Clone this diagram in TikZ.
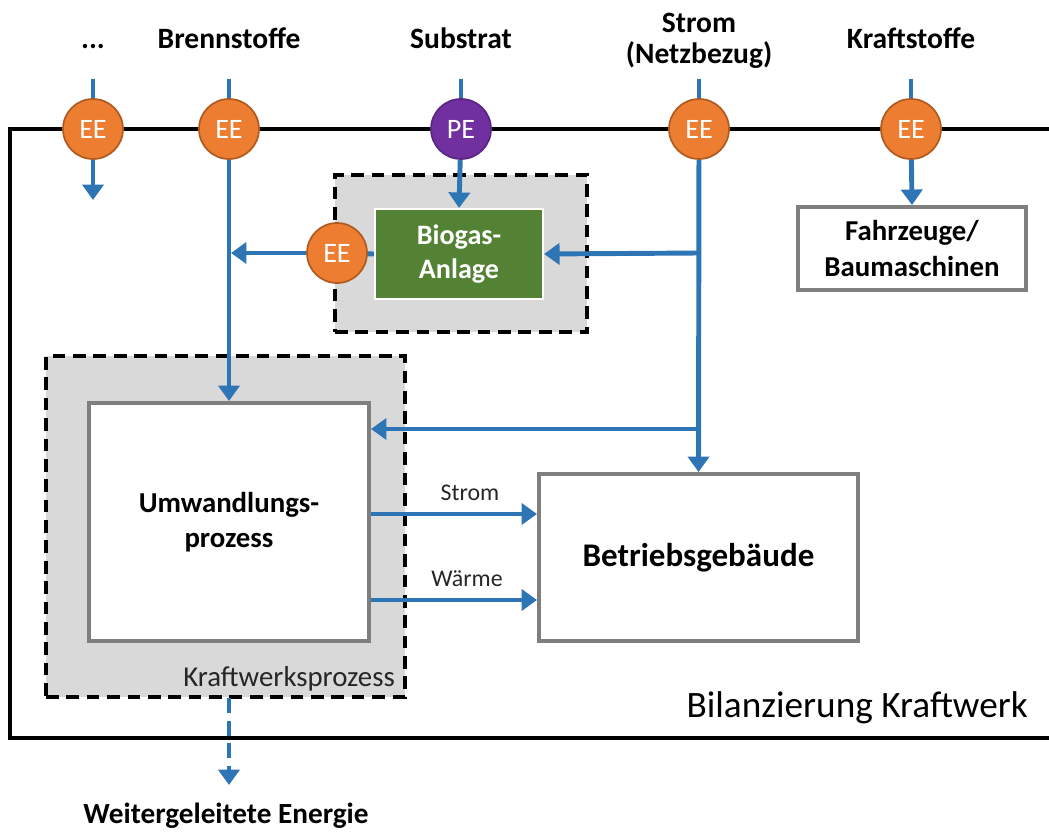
\documentclass[tikz,border=0pt]{standalone}
\usepackage{fontspec}
\setmainfont{Carlito}
\usetikzlibrary{arrows.meta}
\definecolor{flowblue}{HTML}{2E75B6}
\definecolor{eeorange}{HTML}{ED7D31}
\definecolor{eeborder}{HTML}{AE5A21}
\definecolor{pepurple}{HTML}{7030A0}
\definecolor{peborder}{HTML}{5A2680}
\definecolor{zonegray}{HTML}{D9D9D9}
\definecolor{boxgray}{HTML}{7F7F7F}
\definecolor{biogreen}{HTML}{548235}
\definecolor{txtdark}{HTML}{262626}
\tikzset{
  frameline/.style={line width=3pt, black},
  flow/.style={draw=flowblue, line width=3.5pt, -{Triangle[width=15pt,length=11pt]}},
  plainflow/.style={draw=flowblue, line width=3.5pt},
  dashflow/.style={draw=flowblue, line width=3.5pt, dash pattern=on 11pt off 5pt, -{Triangle[width=15pt,length=11pt]}},
  eecircle/.style={circle, fill=eeorange, draw=eeborder, line width=1.2pt, minimum size=1.5cm, inner sep=0pt, text=white, font=\fontsize{20}{24}\selectfont},
  pecircle/.style={eecircle, fill=pepurple, draw=peborder},
  zone/.style={draw=black, fill=zonegray, line width=2.4pt, dash pattern=on 9pt off 5.5pt},
  graybox/.style={draw=boxgray, fill=white, line width=2.8pt, inner sep=0pt, align=center},
  greenbox/.style={draw=white, fill=biogreen, line width=1.5pt, inner sep=0pt, align=center, text=white, font=\bfseries\fontsize{20}{24}\selectfont},
  toplabel/.style={font=\bfseries\fontsize{21}{22}\selectfont, inner sep=0pt},
  flowlabel/.style={font=\fontsize{17}{19}\selectfont, text=txtdark, inner sep=0pt},
}
\begin{document}
\begin{tikzpicture}[x=0.025cm, y=-0.025cm]
\useasboundingbox (0,0) rectangle (1049,833);

% outer balance frame
\draw[frameline] (1060,129) -- (10,129) -- (10,738) -- (1060,738);
\node[anchor=base east, font=\fontsize{26.5}{30}\selectfont, inner sep=0pt] (bilanz) at (1028,717) {Bilanzierung Kraftwerk};

% gray zones
\node[zone, minimum width=6.3cm, minimum height=3.925cm, inner sep=0pt] (biozone) at (461,253.5) {};
\node[zone, minimum width=8.975cm, minimum height=8.525cm, inner sep=0pt] (kw) at (225.5,526.5) {};
\node[anchor=base east, font=\fontsize{20.5}{24}\selectfont, text=txtdark, inner sep=0pt] (kwlabel) at (395,686) {Kraftwerksprozess};

% boxes
\node[greenbox, minimum width=4.2cm, minimum height=2.25cm] (bio) at (459,254) {Biogas-\\Anlage};
\node[graybox, minimum width=7cm, minimum height=5.95cm, font=\bfseries\fontsize{20.5}{25}\selectfont] (umw) at (229,522) {Umwandlungs-\\prozess};
\node[graybox, minimum width=7.975cm, minimum height=4.175cm, font=\bfseries\fontsize{23.5}{27}\selectfont] (betr) at (698.5,557.5) {Betriebsgebäude};
\node[graybox, minimum width=5.7cm, minimum height=2.075cm, font=\bfseries\fontsize{20.5}{26}\selectfont] (fahr) at (912,248.5) {Fahrzeuge/\\Baumaschinen};

% top labels
\node[toplabel, anchor=base] (ldots) at (93,49) {...};
\node[toplabel, anchor=base] (lbrenn) at (229,49) {Brennstoffe};
\node[toplabel, anchor=base] (lsub) at (461,49) {Substrat};
\node[toplabel, align=center] (lstrom) at (699,41) {Strom\\(Netzbezug)};
\node[toplabel, anchor=base] (lkraft) at (911,49) {Kraftstoffe};

% input points
\coordinate (t1) at (93,79);
\coordinate (t2) at (229,79);
\coordinate (t3) at (461,79);
\coordinate (t4) at (699,79);
\coordinate (t5) at (911,79);
\coordinate (o1) at (93,200);
\coordinate (j1) at (231,253);
\coordinate (j2) at (699,253);
\coordinate (j3) at (699,429);

% lines behind circles
\draw[plainflow] (t1) -- (93,129);
\draw[plainflow] (t2) -- (229,129);
\draw[plainflow] (t3) -- (461,129);
\draw[plainflow] (t4) -- (699,129);
\draw[plainflow] (t5) -- (911,129);

% circles
\node[eecircle] (ee1) at (93,129) {EE};
\node[eecircle] (ee2) at (229,129) {EE};
\node[pecircle] (pe) at (461,129) {PE};
\node[eecircle] (ee4) at (699,129) {EE};
\node[eecircle] (ee5) at (911,129) {EE};

% flows
\draw[flow] (ee1) -- (o1);
\draw[flow] (ee2) -- (umw.north);
\draw[flow] (pe) -- (bio.north);
\draw[flow] (ee5) -- (fahr.north);
\draw[flow] (ee4) -- (betr.north);
\draw[flow] (j2) -- (bio.east);
\draw[flow] (j3) -- (umw.east |- j3);
\draw[plainflow] (bio.west) -- (337,253);
\node[eecircle] (eeb) at (337,253) {EE};
\draw[flow] (eeb) -- (j1);

\draw[flow] (umw.east |- 0,514) -- (betr.west |- 0,514);
\node[flowlabel, anchor=base] (lstr) at (470,500) {Strom};
\draw[flow] (umw.east |- 0,600) -- (betr.west |- 0,600);
\node[flowlabel, anchor=base] (lwaer) at (467,586) {Wärme};

\coordinate (wout) at (229,785);
\draw[dashflow] (229,698) -- (wout);
\node[toplabel, anchor=base, font=\bfseries\fontsize{20.8}{24}\selectfont] (lweiter) at (226,823) {Weitergeleitete Energie};
\end{tikzpicture}
\end{document}
